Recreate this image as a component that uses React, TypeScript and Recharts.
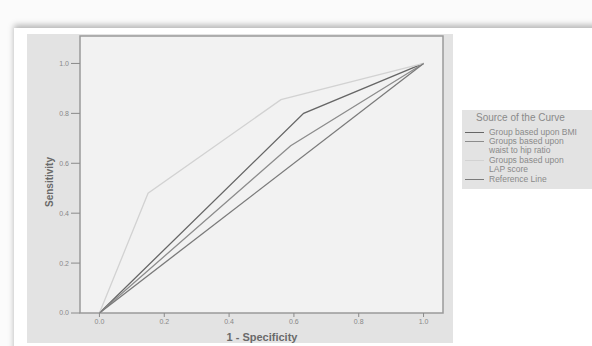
import React from 'react';
import { LineChart, Line, XAxis, YAxis, CartesianGrid, ReferenceArea } from 'recharts';

// ROC curve points (1 - specificity, sensitivity)
const bmiX = [0, 0.63, 1];
const bmiY = [0, 0.8, 1];
const whrX = [0, 0.59, 1];
const whrY = [0, 0.67, 1];
const lapX = [0, 0.15, 0.56, 1];
const lapY = [0, 0.48, 0.855, 1];
const refX = [0, 1];
const refY = [0, 1];

const axisTicks = [0, 0.2, 0.4, 0.6, 0.8, 1.0];

const seriesNames = [
  'Group based upon BMI',
  'Groups based upon waist to hip ratio',
  'Groups based upon LAP score',
  'Reference Line',
];
// legend text as wrapped in the original
const legendLines = [
  ['Group based upon BMI'],
  ['Groups based upon', 'waist to hip ratio'],
  ['Groups based upon', 'LAP score'],
  ['Reference Line'],
];
const seriesColors = ['#666666', '#8c8c8c', '#d2d2d2', '#7a7a7a'];

const toPoints = (xs: number[], ys: number[]) => xs.map((x, i) => ({ x, y: ys[i] }));

const series = [
  toPoints(bmiX, bmiY),
  toPoints(whrX, whrY),
  toPoints(lapX, lapY),
  toPoints(refX, refY),
];

const FONT = '"Liberation Sans", Arial, sans-serif';

const App: React.FC = () => {
  return (
    <div
      style={{
        position: 'absolute',
        left: 0,
        top: 0,
        width: 592,
        height: 346,
        overflow: 'hidden',
        background: '#fbfbfb',
        fontFamily: FONT,
      }}
    >
      {/* white card with shadow */}
      <div
        style={{
          position: 'absolute',
          left: 14,
          top: 28,
          width: 600,
          height: 340,
          background: '#ffffff',
          boxShadow: '0 -3px 6px rgba(0,0,0,0.28)',
        }}
      />
      {/* grey chart panel */}
      <div
        style={{
          position: 'absolute',
          left: 27,
          top: 34,
          width: 426,
          height: 309,
          background: '#e3e3e3',
        }}
      />
      <div style={{ position: 'absolute', left: 0, top: 0 }}>
        <LineChart
          width={453}
          height={346}
          margin={{ top: 36, right: 10, left: 0, bottom: 0 }}
        >
          <CartesianGrid horizontal={false} vertical={false} fill="#f2f2f2" />
          <XAxis
            dataKey="x"
            type="number"
            domain={[-0.06, 1.06]}
            ticks={axisTicks}
            allowDataOverflow
            height={33}
            axisLine={false}
            tickSize={4}
            tickLine={{ stroke: '#8a8a8a' }}
            tick={{ fontSize: 7, fill: '#888', fontFamily: FONT }}
            tickFormatter={(v: number) => v.toFixed(1)}
          />
          <YAxis
            dataKey="y"
            type="number"
            domain={[0, 1.11]}
            ticks={axisTicks}
            allowDataOverflow
            width={80}
            axisLine={false}
            tickSize={9}
            tickLine={{ stroke: '#8a8a8a' }}
            tick={{ fontSize: 7, fill: '#888', fontFamily: FONT }}
            tickFormatter={(v: number) => v.toFixed(1)}
          />
          <ReferenceArea
            x1={-0.06}
            x2={1.06}
            y1={0}
            y2={1.11}
            fill="none"
            stroke="#9a9a9a"
            strokeWidth={1.5}
            ifOverflow="visible"
          />
          {series.map((pts, i) => (
            <Line
              key={seriesNames[i]}
              name={seriesNames[i]}
              data={pts}
              dataKey="y"
              type="linear"
              stroke={seriesColors[i]}
              strokeWidth={1.3}
              dot={false}
              activeDot={false}
              isAnimationActive={false}
            />
          ))}
        </LineChart>
      </div>
      {/* axis titles */}
      <div
        style={{
          position: 'absolute',
          left: 262,
          top: 337,
          transform: 'translate(-50%, -50%)',
          fontSize: 11,
          fontWeight: 'bold',
          color: '#6a6a6a',
          whiteSpace: 'nowrap',
        }}
      >
        1 - Specificity
      </div>
      <div
        style={{
          position: 'absolute',
          left: 49,
          top: 182,
          transform: 'translate(-50%, -50%) rotate(-90deg)',
          fontSize: 10,
          fontWeight: 'bold',
          color: '#6a6a6a',
          whiteSpace: 'nowrap',
        }}
      >
        Sensitivity
      </div>
      {/* legend */}
      <div
        style={{
          position: 'absolute',
          left: 462,
          top: 110,
          width: 135,
          height: 79,
          background: '#e3e3e3',
          color: '#8a8a8a',
        }}
      >
        <div
          style={{
            position: 'absolute',
            left: 14,
            top: 2,
            fontSize: 10,
            lineHeight: '11px',
            whiteSpace: 'nowrap',
          }}
        >
          Source of the Curve
        </div>
        {legendLines.map((lines, i) => {
          const tops = [18, 27, 46, 65];
          return (
            <div
              key={seriesNames[i]}
              style={{
                position: 'absolute',
                left: 3,
                top: tops[i],
                display: 'flex',
                alignItems: 'flex-start',
              }}
            >
              <div
                style={{
                  width: 19,
                  height: 1,
                  background: seriesColors[i],
                  marginRight: 5,
                  marginTop: 4,
                  flexShrink: 0,
                }}
              />
              <div style={{ fontSize: 8.5, lineHeight: '8.5px', whiteSpace: 'nowrap' }}>
                {lines.map((l) => (
                  <div key={l}>{l}</div>
                ))}
              </div>
            </div>
          );
        })}
      </div>
    </div>
  );
};

export default App;
